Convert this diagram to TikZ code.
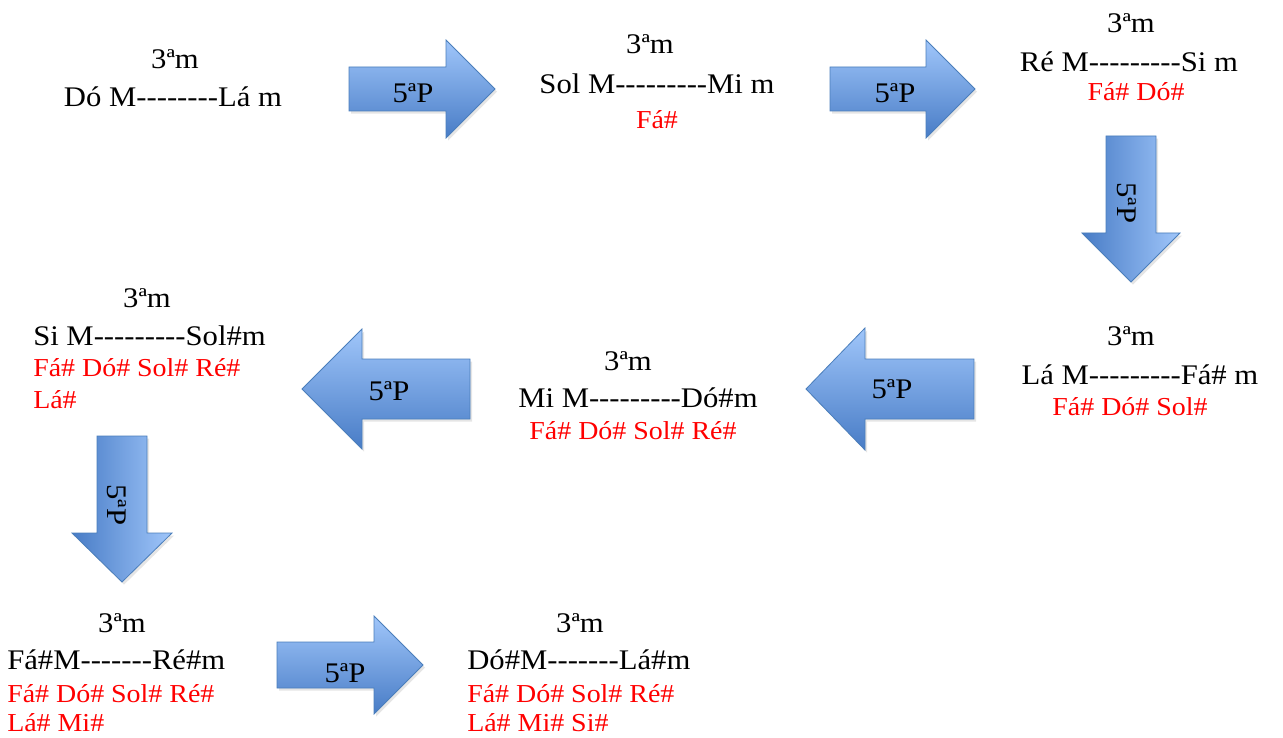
\documentclass[tikz,border=0pt]{standalone}
\usepackage{fontspec}
\setmainfont{Liberation Serif}[FakeStretch=1.08]
\usetikzlibrary{shadows}
\definecolor{arrowlight}{RGB}{160,198,250}
\definecolor{arrowdark}{RGB}{72,124,198}
\definecolor{arrowline}{RGB}{74,126,187}
\definecolor{sharpred}{RGB}{255,0,0}
\ExplSyntaxOn
\cs_new:Npn \hyphenrun #1 {\prg_replicate:nn {#1} {\hbox{-}}}
\ExplSyntaxOff

\begin{document}
\begin{tikzpicture}[x=0.75pt, y=-0.75pt,
  chord/.style={anchor=base, inner sep=0pt, font=\fontsize{21.3}{24}\selectfont},
  sharps/.style={anchor=base, inner sep=0pt, text=sharpred, font=\fontsize{19.4}{22}\selectfont},
  fifth/.style={anchor=base, inner sep=0pt, font=\fontsize{21.3}{24}\selectfont},
  blockarrow/.style={draw=arrowline, line width=0.6pt, drop shadow={shadow xshift=1.5pt, shadow yshift=-2pt, opacity=0.2}},
  across/.style={blockarrow, top color=arrowlight, bottom color=arrowdark},
  downward/.style={blockarrow, left color=arrowdark, right color=arrowlight}]
\fill[white] (0,0) rectangle (1283,738);
\useasboundingbox (0,0) rectangle (1283,738);

% the block arrows
\shade[across] (349,67) -- (446,67) -- (446,40) -- (495,89) -- (446,138) -- (446,111) -- (349,111) -- cycle;
\shade[across] (830,67) -- (926,67) -- (926,40) -- (975,89) -- (926,138) -- (926,111) -- (830,111) -- cycle;
\shade[downward] (1106,136) -- (1156,136) -- (1156,233) -- (1180,233) -- (1131,282) -- (1082,233) -- (1106,233) -- cycle;
\shade[across] (974,359) -- (865,359) -- (865,328) -- (806,389) -- (865,450) -- (865,419) -- (974,419) -- cycle;
\shade[across] (470,359) -- (362,359) -- (362,329) -- (302,389) -- (362,449) -- (362,419) -- (470,419) -- cycle;
\shade[downward] (97,436) -- (147,436) -- (147,533) -- (172,533) -- (122,582) -- (72,533) -- (97,533) -- cycle;
\shade[across] (277,642) -- (374,642) -- (374,616) -- (423,665) -- (374,714) -- (374,688) -- (277,688) -- cycle;

\node[fifth] (p1) at (413,103) {5ªP};
\node[fifth] (p2) at (895,103) {5ªP};
\node[fifth, anchor=center, rotate=-90] (p3) at (1127,203) {5ªP};
\node[fifth] (p4) at (892,398) {5ªP};
\node[fifth] (p5) at (389,400) {5ªP};
\node[fifth, anchor=center, rotate=-90] (p6) at (117,505) {5ªP};
\node[fifth] (p7) at (345,682) {5ªP};

% the keys
\node[chord] (dotop) at (175,69) {3ªm};
\node[chord] (do) at (173,107) {Dó M\hyphenrun{8}Lá m};

\node[chord] (soltop) at (650,54) {3ªm};
\node[chord] (sol) at (657,94) {Sol M\hyphenrun{9}Mi m};
\node[sharps] (solsh) at (657,129) {Fá\#};

\node[chord] (retop) at (1131,33) {3ªm};
\node[chord] (re) at (1129,72) {Ré M\hyphenrun{9}Si m};
\node[sharps] (resh) at (1136,101) {Fá\# Dó\#};

\node[chord] (latop) at (1131,345) {3ªm};
\node[chord] (la) at (1140,384) {Lá M\hyphenrun{9}Fá\# m};
\node[sharps] (lash) at (1130,415) {Fá\# Dó\# Sol\#};

\node[chord] (mitop) at (628,370) {3ªm};
\node[chord] (mi) at (638,407) {Mi M\hyphenrun{9}Dó\#m};
\node[sharps] (mish) at (633,439) {Fá\# Dó\# Sol\# Ré\#};

\node[chord] (sitop) at (147,308) {3ªm};
\node[chord, anchor=base west] (si) at (33,345) {Si M\hyphenrun{9}Sol\#m};
\node[sharps, anchor=base west] (sish) at (33,377) {Fá\# Dó\# Sol\# Ré\#};
\node[sharps, anchor=base west] (sish2) at (33,408) {Lá\#};

\node[chord] (fatop) at (122,632) {3ªm};
\node[chord, anchor=base west] (fa) at (7,669) {Fá\#M\hyphenrun{7}Ré\#m};
\node[sharps, anchor=base west] (fash) at (7,702) {Fá\# Dó\# Sol\# Ré\#};
\node[sharps, anchor=base west] (fash2) at (7,731) {Lá\# Mi\#};

\node[chord] (dostop) at (580,632) {3ªm};
\node[chord, anchor=base west] (dos) at (467,669) {Dó\#M\hyphenrun{7}Lá\#m};
\node[sharps, anchor=base west] (dossh) at (467,702) {Fá\# Dó\# Sol\# Ré\#};
\node[sharps, anchor=base west] (dossh2) at (467,731) {Lá\# Mi\# Si\#};
\end{tikzpicture}
\end{document}
